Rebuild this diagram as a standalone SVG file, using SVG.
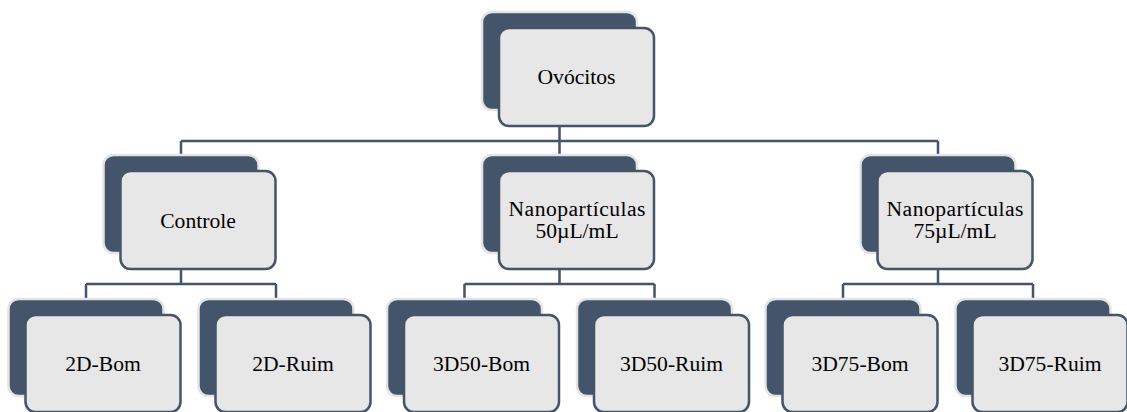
<svg xmlns="http://www.w3.org/2000/svg" width="1127" height="412" viewBox="0 0 1127 412">
<style>
.back{fill:#44546A;stroke:#E4E4E4;stroke-width:2.5}
.front{fill:#E7E7E7;stroke:#44546A;stroke-width:2.5}
.lbl{font-family:"Liberation Serif","Times New Roman",serif;font-size:21.6px;fill:#000;text-anchor:middle}
.conn{fill:none;stroke:#44546A;stroke-width:2.5}
</style>
<rect width="1127" height="412" fill="#FFFFFF"/>
<g id="connectors">
<path class="conn" d="M559.5,126 V141 M181,141 H938 M181,141 V155 M559.5,141 V155 M938,141 V155"/>
<path class="conn" d="M181,269 V284 M86,284 H276 M86,284 V299 M276,284 V299"/>
<path class="conn" d="M559.5,269 V284 M464.5,284 H654.5 M464.5,284 V299 M654.5,284 V299"/>
<path class="conn" d="M938,269 V284 M843,284 H1033 M843,284 V299 M1033,284 V299"/>
</g>
<g id="ovocitos">
<rect class="back" x="482" y="12" width="155" height="98" rx="10"/>
<rect class="front" x="499" y="28" width="155" height="98" rx="10"/>
<text class="lbl" x="576.5" y="84">Ovócitos</text>
</g>
<g id="controle">
<rect class="back" x="103.5" y="155" width="155" height="98" rx="10"/>
<rect class="front" x="120.5" y="171" width="155" height="98" rx="10"/>
<text class="lbl" x="198" y="228">Controle</text>
</g>
<g id="nano50">
<rect class="back" x="482" y="155" width="155" height="98" rx="10"/>
<rect class="front" x="499" y="171" width="155" height="98" rx="10"/>
<text class="lbl" x="577" y="216" textLength="137" lengthAdjust="spacing">Nanopartículas</text>
<text class="lbl" x="577" y="238">50µL/mL</text>
</g>
<g id="nano75">
<rect class="back" x="860.5" y="155" width="155" height="98" rx="10"/>
<rect class="front" x="877.5" y="171" width="155" height="98" rx="10"/>
<text class="lbl" x="955" y="216" textLength="137" lengthAdjust="spacing">Nanopartículas</text>
<text class="lbl" x="955" y="238">75µL/mL</text>
</g>
<g id="b2dbom">
<rect class="back" x="8.5" y="299" width="155" height="97" rx="10"/>
<rect class="front" x="25.5" y="315" width="155" height="97" rx="10"/>
<text class="lbl" x="103" y="371">2D-Bom</text>
</g>
<g id="b2druim">
<rect class="back" x="198.5" y="299" width="155" height="97" rx="10"/>
<rect class="front" x="215.5" y="315" width="155" height="97" rx="10"/>
<text class="lbl" x="293" y="371">2D-Ruim</text>
</g>
<g id="b3d50bom">
<rect class="back" x="387" y="299" width="155" height="97" rx="10"/>
<rect class="front" x="404" y="315" width="155" height="97" rx="10"/>
<text class="lbl" x="481.5" y="371">3D50-Bom</text>
</g>
<g id="b3d50ruim">
<rect class="back" x="577" y="299" width="155" height="97" rx="10"/>
<rect class="front" x="594" y="315" width="155" height="97" rx="10"/>
<text class="lbl" x="671.5" y="371">3D50-Ruim</text>
</g>
<g id="b3d75bom">
<rect class="back" x="765.5" y="299" width="155" height="97" rx="10"/>
<rect class="front" x="782.5" y="315" width="155" height="97" rx="10"/>
<text class="lbl" x="860" y="371">3D75-Bom</text>
</g>
<g id="b3d75ruim">
<rect class="back" x="955.5" y="299" width="155" height="97" rx="10"/>
<rect class="front" x="972.5" y="315" width="155" height="97" rx="10"/>
<text class="lbl" x="1050" y="371">3D75-Ruim</text>
</g>
</svg>
